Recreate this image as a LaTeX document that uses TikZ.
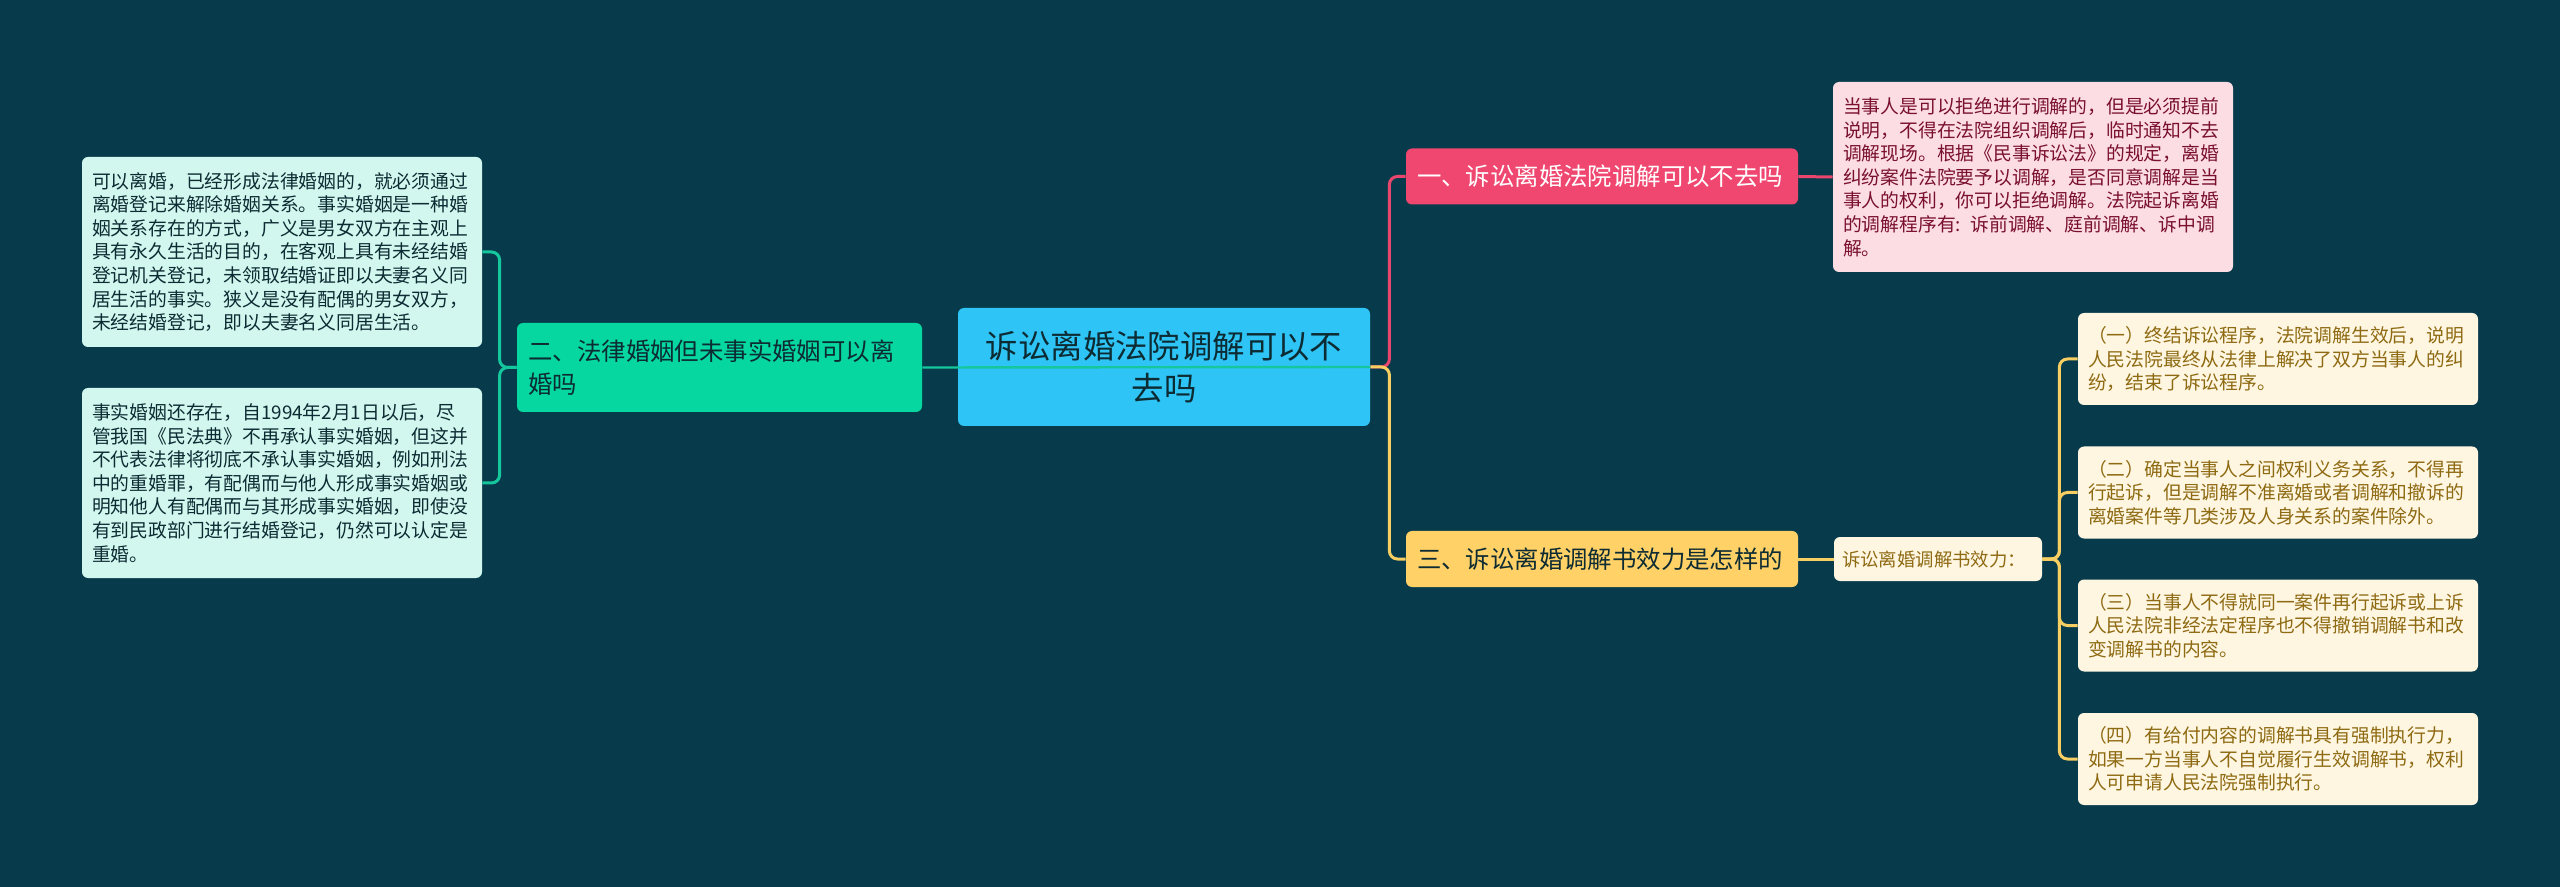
\documentclass[tikz,border=0pt]{standalone}
\usepackage{fontspec}
\setmainfont{Noto Sans CJK SC}
\definecolor{bg}{HTML}{073B4C}
\definecolor{cblue}{HTML}{2EC4F5}
\definecolor{cgreen}{HTML}{06D6A0}
\definecolor{cpink}{HTML}{EF476F}
\definecolor{cyellow}{HTML}{FFD166}
\definecolor{lmint}{HTML}{D2F7EE}
\definecolor{lpink}{HTML}{FCDDE3}
\definecolor{lcream}{HTML}{FEF6E1}
\definecolor{tdark}{HTML}{0D2B33}
\definecolor{tred}{HTML}{7A1030}
\definecolor{tgold}{HTML}{8E6A12}
\definecolor{lgreen}{HTML}{14C79C}
\definecolor{lpinkline}{HTML}{E8466C}
\definecolor{lyellow}{HTML}{F7CE62}
\tikzset{
  box/.style={rectangle, rounded corners=3pt, inner sep=0pt, anchor=center},
  leafbox/.style={box, minimum width=200pt, minimum height=46pt, text width=190pt, align=left,
     font=\fontsize{9.4pt}{11.8pt}\selectfont},
  mainbox/.style={box, minimum width=196pt, minimum height=28pt, text width=185pt, align=left,
     font=\fontsize{12.2pt}{16.5pt}\selectfont},
  conn/.style={line width=1.5pt, rounded corners=4pt},
}
\begin{document}
\begin{tikzpicture}[x=0.5pt,y=-0.5pt]
\fill[bg] (0,0) rectangle (2560,887);
\useasboundingbox (0,0) rectangle (2560,887);

% nodes
\node[box, fill=cblue, text=tdark, minimum width=206pt, minimum height=59pt, text width=190pt, align=center,
  font=\fontsize{16.2pt}{21pt}\selectfont] (c) at (1164,367) {诉讼离婚法院调解可以不\\去吗};

\node[mainbox, fill=cgreen, text=tdark, minimum width=202.5pt, minimum height=44.5pt, text width=191pt] (l) at (719.5,367.5)
  {二、法律婚姻但未事实婚姻可以离\\婚吗};

\node[leafbox, fill=lmint, text=tdark, minimum height=95pt] (L1) at (282,252)
  {可以离婚，已经形成法律婚姻的，就必须通过\\离婚登记来解除婚姻关系。事实婚姻是一种婚\\姻关系存在的方式，广义是男女双方在主观上\\具有永久生活的目的，在客观上具有未经结婚\\登记机关登记，未领取结婚证即以夫妻名义同\\居生活的事实。狭义是没有配偶的男女双方，\\未经结婚登记，即以夫妻名义同居生活。};
\node[leafbox, fill=lmint, text=tdark, minimum height=95pt] (L2) at (282,483)
  {事实婚姻还存在，自1994年2月1日以后，尽\\管我国《民法典》不再承认事实婚姻，但这并\\不代表法律将彻底不承认事实婚姻，例如刑法\\中的重婚罪，有配偶而与他人形成事实婚姻或\\明知他人有配偶而与其形成事实婚姻，即使没\\有到民政部门进行结婚登记，仍然可以认定是\\重婚。};

\node[mainbox, fill=cpink, text=white] (n1) at (1602,176.5) {一、诉讼离婚法院调解可以不去吗};
\node[leafbox, fill=lpink, text=tred, minimum height=95pt] (p1) at (2033,177)
  {当事人是可以拒绝进行调解的，但是必须提前\\说明，不得在法院组织调解后，临时通知不去\\调解现场。根据《民事诉讼法》的规定，离婚\\纠纷案件法院要予以调解，是否同意调解是当\\事人的权利，你可以拒绝调解。法院起诉离婚\\的调解程序有: 诉前调解、庭前调解、诉中调\\解。};

\node[mainbox, fill=cyellow, text=tdark] (n3) at (1602,559) {三、诉讼离婚调解书效力是怎样的};
\node[box, fill=lcream, text=tgold, minimum width=104pt, minimum height=22pt, text width=96pt, align=left,
  font=\fontsize{9.2pt}{11pt}\selectfont] (m) at (1938,559) {诉讼离婚调解书效力：};

\node[leafbox, fill=lcream, text=tgold] (ra) at (2278,359)
  {（一）终结诉讼程序，法院调解生效后，说明\\人民法院最终从法律上解决了双方当事人的纠\\纷，结束了诉讼程序。};
\node[leafbox, fill=lcream, text=tgold] (rb) at (2278,492.5)
  {（二）确定当事人之间权利义务关系，不得再\\行起诉，但是调解不准离婚或者调解和撤诉的\\离婚案件等几类涉及人身关系的案件除外。};
\node[leafbox, fill=lcream, text=tgold] (rc) at (2278,625.5)
  {（三）当事人不得就同一案件再行起诉或上诉\\人民法院非经法定程序也不得撤销调解书和改\\变调解书的内容。};
\node[leafbox, fill=lcream, text=tgold] (rd) at (2278,759)
  {（四）有给付内容的调解书具有强制执行力，\\如果一方当事人不自觉履行生效调解书，权利\\人可申请人民法院强制执行。};

% connectors
\begin{scope}[on background layer/.style={}]
\end{scope}
\draw[conn, lgreen] (l.west) -- ++(-17,0) |- (L1.east);
\draw[conn, lgreen] (l.west) -- ++(-17,0) |- (L2.east);
\draw[conn, lpinkline] (c.east) -- ++(19,0) |- (n1.west);
\draw[conn, lyellow] (c.east) -- ++(19,0) |- (n3.west);
\draw[conn, lpinkline] (n1.east) -- (p1.west);
\draw[conn, lyellow] (n3.east) -- (m.west);
\draw[conn, lyellow] (m.east) -- ++(17,0) |- (ra.west);
\draw[conn, lyellow] (m.east) -- ++(17,0) |- (rb.west);
\draw[conn, lyellow] (m.east) -- ++(17,0) |- (rc.west);
\draw[conn, lyellow] (m.east) -- ++(17,0) |- (rd.west);
\draw[line width=1.2pt, lgreen] (c.east) -- (l.east);
\end{tikzpicture}
\end{document}
